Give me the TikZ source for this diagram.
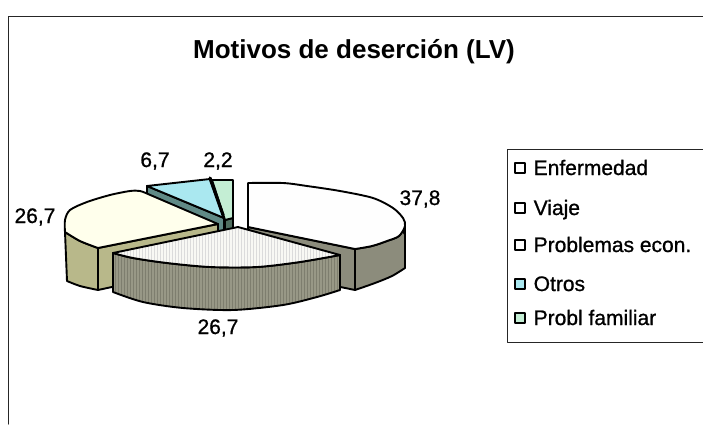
\documentclass[tikz,border=0pt]{standalone}
\usepackage{fontspec}
\setmainfont{Liberation Sans}
\newfontfamily\thkfont{Liberation Sans}[FakeBold=0.9]
\definecolor{etop}{RGB}{254,254,254}
\definecolor{eside}{RGB}{140,140,124}
\definecolor{vtop}{RGB}{248,248,244}
\definecolor{vside}{RGB}{152,152,134}
\definecolor{vstripe}{RGB}{126,126,110}
\definecolor{ptop}{RGB}{255,255,236}
\definecolor{pside}{RGB}{184,184,138}
\definecolor{otop}{RGB}{170,232,240}
\definecolor{oside}{RGB}{96,138,134}
\definecolor{ftop}{RGB}{196,238,212}
\definecolor{fside}{RGB}{80,110,96}
\begin{document}
\begin{tikzpicture}[x=1pt,y=-1pt,line join=round,line cap=round,
  edge/.style={draw=black,line width=1.9pt},
  framel/.style={draw=black!85,line width=1pt},
  titl/.style={font=\fontsize{26}{30}\selectfont\bfseries,inner sep=0pt,anchor=base},
  lbl/.style={font=\thkfont\fontsize{21}{25}\selectfont,inner sep=0pt,anchor=base},
  ltxt/.style={font=\thkfont\fontsize{21}{25}\selectfont,inner sep=0pt,anchor=base west},
  lsq/.style={draw=black,line width=1.4pt,minimum size=10pt,inner sep=0pt},
  sidestripes/.style={path picture={\foreach \sx in {100,103,...,350}{\draw[vstripe,line width=0.8pt] (\sx,240) -- (\sx,320);}}},
  topstripes/.style={path picture={\foreach \sx in {100,103,...,350}{\draw[black!14,line width=0.8pt] (\sx,220) -- (\sx,275);}}}]
\useasboundingbox (0,0) rectangle (703,424);
\fill[white] (0,0) rectangle (703,424);
% frame
\draw[framel] (8,424) -- (8,16) -- (703,16);
% title
\node[titl] (title) at (354,58) {Motivos de deserción (LV)};
% Otros
\path[edge,fill=oside] (147,186) -- (224,218) -- (224,258) -- (147,226) -- cycle;
\path[edge,fill=otop] (147,186) -- (210,179) -- (224,218) -- cycle;
% Probl familiar
\path[edge,fill=fside] (225,220) -- (233,218) -- (233,232) -- (225,234) -- cycle;
\path[edge,fill=ftop] (212,180) -- (233,180) -- (233,218) -- (225,220) -- cycle;
\draw[line width=3.2pt] (210,178) -- (223,215);
% Enfermedad
\path[edge,fill=eside] (248,227) -- (355,249) -- (355,290) -- (248,268) -- cycle;
\path[edge,fill=eside] plot[smooth] coordinates {(355,249) (372,246) (387,241) (399,236) (405,226)} -- (405,268) -- plot[smooth] coordinates {(405,268) (392,276) (375,283) (355,290)} -- cycle;
\fill (398,226) -- (405,222) -- (405,236) -- cycle;
\path[edge,fill=etop] (248,227) -- (248,183) -- plot[smooth] coordinates {(248,183) (283,183) (307,186) (340,191) (373,198) (393,208) (403,218) (405,226) (399,236) (387,241) (372,246) (355,249)} -- cycle;
% Problemas econ.
\path[edge,fill=pside] (98,248) -- (218,224) -- (218,264) -- (98,290) -- cycle;
\path[edge,fill=pside] plot[smooth] coordinates {(65,232) (80,241) (98,248)} -- (98,290) -- plot[smooth] coordinates {(98,290) (80,286) (67,281)} -- cycle;
\path[edge,fill=ptop] plot[smooth] coordinates {(65,232) (65,220) (70,210) (87,202) (110,195) (130,191) (140,191) (148,194)} -- (218,224) -- (98,248) -- plot[smooth] coordinates {(98,248) (80,241) (65,232)} -- cycle;
% Viaje
\path[edge,fill=vside,sidestripes] plot[smooth] coordinates {(113,253) (133,258) (167,263) (210,267) (257,267) (300,262) (340,255)} -- (340,290) -- plot[smooth] coordinates {(340,290) (317,297) (283,305) (233,310) (183,308) (143,302) (113,292)} -- cycle;
\path[edge,fill=vtop,topstripes] (238,227) -- (340,255) -- plot[smooth] coordinates {(340,255) (300,262) (257,267) (210,267) (167,263) (133,258) (113,253)} -- cycle;
% data labels
\node[lbl] (l1) at (420,205) {37,8};
\node[lbl] (l2) at (218,334) {26,7};
\node[lbl] (l3) at (35,223) {26,7};
\node[lbl] (l4) at (155,167) {6,7};
\node[lbl] (l5) at (218,167) {2,2};
% legend
\draw[framel] (703,149) -- (507,149) -- (507,342) -- (703,342);
\node[lsq,fill=white] (s1) at (520,168) {};
\node[lsq,fill=white] (s2) at (520,208) {};
\node[lsq,fill=white] (s3) at (520,245) {};
\node[lsq,fill=otop] (s4) at (520,284) {};
\node[lsq,fill=ftop] (s5) at (520,318) {};
\node[ltxt] (t1) at (533.5,175) {Enfermedad};
\node[ltxt] (t2) at (533.5,215) {Viaje};
\node[ltxt] (t3) at (533.5,252) {Problemas econ.};
\node[ltxt] (t4) at (533.5,291) {Otros};
\node[ltxt] (t5) at (533.5,325) {Probl familiar};
\end{tikzpicture}
\end{document}
